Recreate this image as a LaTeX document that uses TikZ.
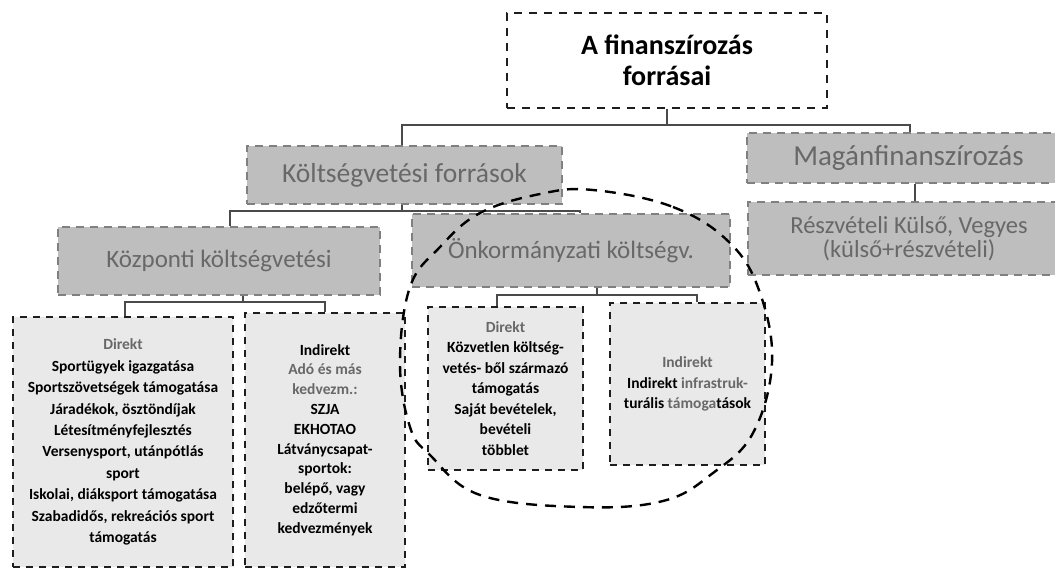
\documentclass[tikz,border=0pt]{standalone}
\usepackage{fontspec}
\setmainfont{Carlito}
\definecolor{boxfill}{HTML}{BEBEBE}
\definecolor{boxedge}{HTML}{808080}
\definecolor{boxtext}{HTML}{686868}
\definecolor{lightfill}{HTML}{E9E9E9}
\definecolor{darkedge}{HTML}{1E1E1E}
\definecolor{connclr}{HTML}{4A4A4A}
\begin{document}
\begin{tikzpicture}[x=1pt,y=-1pt,
  topbox/.style={draw=darkedge, line width=2.4pt, dash pattern=on 8pt off 7pt, fill=white,
    minimum width=320pt, minimum height=95pt, inner sep=0pt, align=center,
    font=\fontsize{28}{31}\selectfont\bfseries},
  graybox/.style={draw=boxedge, line width=2.4pt, dash pattern=on 8pt off 6pt, fill=boxfill,
    inner sep=0pt, align=center, text=boxtext},
  leafbox/.style={draw=darkedge, line width=2.6pt, dash pattern=on 7pt off 6pt, fill=lightfill,
    inner sep=0pt, align=center, text=black,
    font=\fontsize{15.5}{20.5}\selectfont\bfseries},
  conn/.style={draw=connclr, line width=1.5pt},
  ring/.style={draw=black, line width=2.4pt, dash pattern=on 11pt off 8pt}]
\useasboundingbox (0,0) rectangle (1055,575);
\clip (0,0) rectangle (1055,575);

% top
\node[topbox] (top) at (667,60.5) {A finanszírozás\\forrásai};

% level 2
\node[graybox, minimum width=315pt, minimum height=58pt,
  font=\fontsize{27.5}{30}\selectfont] (kolt) at (404.5,175) {Költségvetési források};
\node[graybox, minimum width=323pt, minimum height=50pt,
  font=\fontsize{29}{30}\selectfont] (magan) at (908.5,158) {Magánfinanszírozás};

% level 3
\node[graybox, minimum width=322pt, minimum height=68pt,
  font=\fontsize{25}{28}\selectfont] (kozp) at (219,261) {Központi költségvetési};
\node[graybox, minimum width=318pt, minimum height=73pt,
  font=\fontsize{25}{28}\selectfont] (onk) at (571,250.5) {Önkormányzati költségv.};
\node[graybox, minimum width=322pt, minimum height=73pt,
  font=\fontsize{24.5}{23.5}\selectfont] (resz) at (909,238.5) {Részvételi Külső, Vegyes\\(külső+részvételi)};

% leaves
\node[leafbox, minimum width=220pt, minimum height=250pt,
  font=\fontsize{15.5}{21.4}\selectfont\bfseries] (d1) at (123,442)
  {{\color{boxtext}Direkt}\\Sportügyek igazgatása\\Sportszövetségek támogatása\\Járadékok, ösztöndíjak\\Létesítményfejlesztés\\Versenysport, utánpótlás\\sport\\Iskolai, diáksport támogatása\\Szabadidős, rekreációs sport\\támogatás};
\node[leafbox, minimum width=160pt, minimum height=254pt,
  font=\fontsize{15.5}{19.8}\selectfont\bfseries] (i1) at (325,440)
  {Indirekt\\{\color{boxtext}Adó és más}\\{\color{boxtext}kedvezm.:}\\SZJA\\EKHOTAO\\Látványcsapat-\\sportok:\\belépő, vagy\\edzőtermi\\kedvezmények};
\node[leafbox, minimum width=155pt, minimum height=163pt] (d2) at (505.5,388.5)
  {{\color{boxtext}Direkt}\\Közvetlen költség-\\vetés- ből származó\\támogatás\\Saját bevételek,\\bevételi\\többlet};
\node[leafbox, minimum width=155pt, minimum height=162pt] (i2) at (687.5,384)
  {{\color{boxtext}Indirekt}\\Indirekt {\color{boxtext}infrastruk-}\\turális {\color{boxtext}támoga}tások};

% connectors
\coordinate (bus1) at (667,125);
\draw[conn] (top.south) -- (bus1);
\draw[conn] ([xshift=-2.5pt]kolt.north) |- (bus1) -| ([xshift=1.5pt]magan.north);

\coordinate (bus2) at (402,211);
\draw[conn] ([xshift=-2.5pt]kolt.south) -- (bus2);
\draw[conn] ([xshift=11pt]kozp.north) |- (bus2) -| ([xshift=9pt]onk.north);

\coordinate (bus3) at (243,302);
\draw[conn] ([xshift=24pt]kozp.south) -- (bus3);
\draw[conn] ([xshift=2pt]d1.north) |- (bus3) -| (i1.north);

\coordinate (bus4) at (597,295);
\draw[conn] ([xshift=26pt]onk.south) -- (bus4);
\draw[conn] ([xshift=-8.5pt]d2.north) |- (bus4) -| ([xshift=9.5pt]i2.north);

\draw[conn] ([xshift=6.5pt]magan.south) -- ([xshift=6pt]resz.north);

% dashed ring
\draw[ring] plot[smooth cycle, tension=0.65] coordinates {
  (593,190) (673,207) (730,243) (760,293) (772,363) (753,433) (713,473)
  (663,501) (580,507) (480,495) (430,455) (410,427) (400,363) (410,287)
  (440,247) (480,213) (540,194)};
\end{tikzpicture}
\end{document}
